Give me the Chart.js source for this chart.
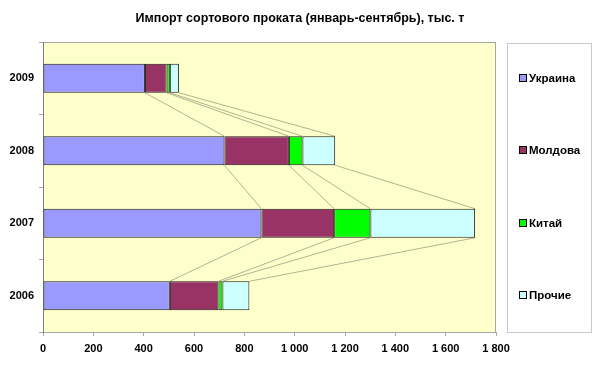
<!DOCTYPE html>
<html>
<head>
<meta charset="utf-8">
<script src="https://cdn.jsdelivr.net/npm/chart.js@4/dist/chart.umd.min.js"></script>
<style>
  html, body { margin: 0; padding: 0; background: #fff; }
  #wrap { width: 600px; height: 369px; position: relative; }
</style>
</head>
<body>
<div id="wrap"><canvas id="importChart"></canvas></div>
<script>
// Chart data
const years = ['2009', '2008', '2007', '2006'];
const ukraine = [405, 721, 868, 504];
const moldova = [86, 256, 289, 193];
const china = [13, 54, 144, 16];
const other = [36, 130, 416, 107];
const xTicks = [0, 200, 400, 600, 800, 1000, 1200, 1400, 1600, 1800];

const FONT = '"Liberation Sans", Arial, sans-serif';

// background + frame of the plot area
const plotBackground = {
    id: 'plotBackground',
    afterLayout(chart) {
        // center the title on the whole canvas, not only the plot
        const t = chart.titleBlock;
        if (t) {
            t.left = 0;
            t.right = chart.width;
            t.width = chart.width;
        }
    },
    beforeDraw(chart) {
        const { ctx, chartArea: a } = chart;
        ctx.save();
        ctx.fillStyle = '#FFFFCC';
        ctx.fillRect(a.left, a.top, a.right - a.left, a.bottom - a.top);
        ctx.strokeStyle = '#A6A6A6';
        ctx.lineWidth = 1;
        ctx.strokeRect(a.left + 0.5, a.top + 0.5, a.right - a.left - 1, a.bottom - a.top);
        ctx.restore();
    }
};

// Excel style series lines between stacked bars
const seriesLines = {
    id: 'seriesLines',
    beforeDatasetsDraw(chart) {
        const ctx = chart.ctx;
        ctx.save();
        ctx.strokeStyle = 'rgba(160, 160, 130, 0.8)';
        ctx.lineWidth = 1;
        chart.data.datasets.forEach((ds, k) => {
            const bars = chart.getDatasetMeta(k).data;
            for (let i = 0; i < bars.length - 1; i++) {
                const a = bars[i], b = bars[i + 1];
                ctx.beginPath();
                ctx.moveTo(a.x, a.y + a.height / 2);
                ctx.lineTo(b.x, b.y - b.height / 2);
                ctx.stroke();
            }
        });
        ctx.restore();
    }
};

// boxed legend on the right
const boxLegend = {
    id: 'boxLegend',
    afterDraw(chart) {
        const { ctx, chartArea: a } = chart;
        const left = 507, right = 591;
        const top = a.top + 1, bottom = a.bottom;
        ctx.save();
        ctx.fillStyle = '#fff';
        ctx.fillRect(left, top, right - left, bottom - top);
        ctx.strokeStyle = '#C8C8C8';
        ctx.lineWidth = 1;
        ctx.strokeRect(left + 0.5, top + 0.5, right - left, bottom - top);
        const n = chart.data.datasets.length;
        const step = (bottom - top) / n;
        ctx.font = 'bold 11.5px ' + FONT;
        ctx.textBaseline = 'middle';
        chart.data.datasets.forEach((ds, i) => {
            const cy = Math.round(top + step * (i + 0.5));
            ctx.fillStyle = ds.backgroundColor;
            ctx.fillRect(519.5, cy - 4.5, 7, 7);
            ctx.strokeStyle = '#000';
            ctx.strokeRect(519.5, cy - 4.5, 7, 7);
            ctx.fillStyle = '#000';
            ctx.fillText(ds.label, 529, cy);
        });
        ctx.restore();
    }
};

function makeSet(label, data, color) {
    return {
        label: label,
        data: data,
        backgroundColor: color,
        borderColor: '#1a1a1a',
        borderWidth: 1,
        borderSkipped: false,
        categoryPercentage: 1,
        barPercentage: 0.4
    };
}

const ctx = document.getElementById('importChart');
new Chart(ctx, {
    type: 'bar',
    data: {
        labels: years,
        datasets: [
            makeSet('Украина', ukraine, '#9999FF'),
            makeSet('Молдова', moldova, '#993366'),
            makeSet('Китай', china, '#00FF00'),
            makeSet('Прочие', other, '#CCFFFF')
        ]
    },
    options: {
        indexAxis: 'y',
        responsive: true,
        maintainAspectRatio: false,
        animation: false,
        layout: {
            padding: { left: 0, right: 104, top: 0, bottom: 0 }
        },
        plugins: {
            legend: { display: false },
            tooltip: { enabled: false },
            title: {
                display: true,
                text: 'Импорт сортового проката (январь-сентябрь), тыс. т',
                color: '#000',
                font: { family: FONT, size: 12.5, weight: 'bold' },
                padding: { top: 11, bottom: 16 }
            }
        },
        scales: {
            x: {
                stacked: true,
                min: 0,
                max: 1800,
                afterBuildTicks: function(scale) {
                    scale.ticks = xTicks.map(v => ({ value: v }));
                },
                afterFit: function(scale) {
                    scale.height = 37;
                },
                grid: {
                    drawOnChartArea: false,
                    tickLength: 4,
                    color: '#A6A6A6'
                },
                border: { color: '#A6A6A6' },
                ticks: {
                    color: '#000',
                    padding: 6,
                    maxRotation: 0,
                    font: { family: FONT, size: 11, weight: 'bold' },
                    callback: function(value) {
                        return String(value).replace(/\B(?=(\d{3})+(?!\d))/g, ' ');
                    }
                }
            },
            y: {
                stacked: true,
                afterFit: function(scale) {
                    scale.width = 43;
                },
                grid: {
                    drawOnChartArea: false,
                    offset: true,
                    tickLength: 4,
                    color: '#A6A6A6'
                },
                border: { color: '#808080' },
                ticks: {
                    color: '#000',
                    padding: 5,
                    font: { family: FONT, size: 11, weight: 'bold' }
                }
            }
        }
    },
    plugins: [plotBackground, seriesLines, boxLegend]
});
</script>
</body>
</html>
